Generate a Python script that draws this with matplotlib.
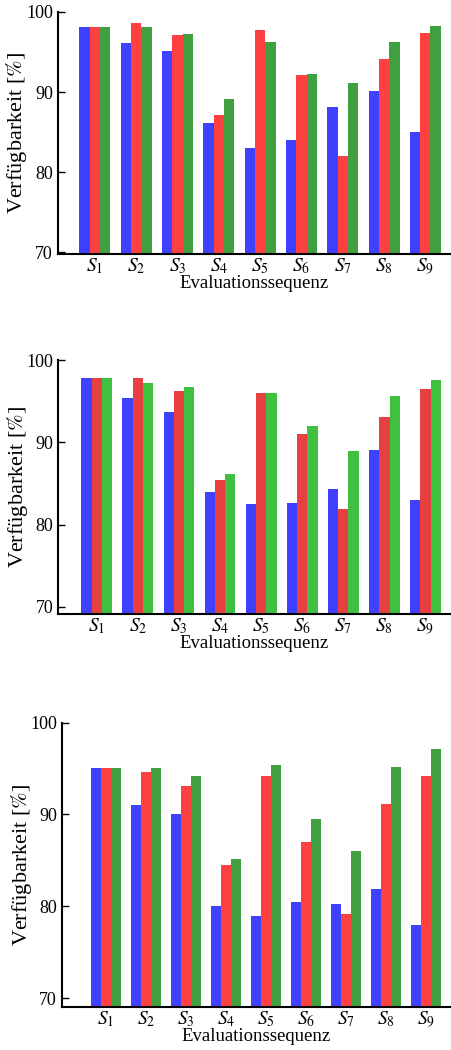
import numpy as np
import matplotlib
matplotlib.use("Agg")
import matplotlib.pyplot as plt

plt.rcParams['font.family'] = 'serif'
plt.rcParams['font.serif'] = ['Liberation Serif', 'DejaVu Serif']
plt.rcParams['mathtext.fontset'] = 'stix'

# tick labels for the sequences
labels = [f"$S_{i}$" for i in range(1, 10)]

# panel 1
p1_blue = [98.1, 96.1, 95.1, 86.1, 83.0, 84.0, 88.1, 90.1, 85.0]
p1_red = [98.1, 98.6, 97.1, 87.1, 97.7, 92.1, 82.0, 94.1, 97.3]
p1_green = [98.1, 98.1, 97.2, 89.1, 96.2, 92.2, 91.1, 96.2, 98.2]

# panel 2
p2_blue = [97.8, 95.4, 93.7, 84.0, 82.5, 82.6, 84.3, 89.1, 83.0]
p2_red = [97.8, 97.9, 96.2, 85.4, 96.0, 91.0, 81.9, 93.1, 96.5]
p2_green = [97.8, 97.2, 96.8, 86.2, 96.0, 92.0, 89.0, 95.7, 97.6]

# panel 3
p3_blue = [95.0, 91.0, 90.1, 80.0, 79.0, 80.5, 80.3, 81.9, 78.0]
p3_red = [95.0, 94.6, 93.1, 84.5, 94.2, 87.0, 79.2, 91.1, 94.2]
p3_green = [95.0, 95.0, 94.2, 85.2, 95.4, 89.5, 86.0, 95.2, 97.1]

panels = [
    # data, colors, axes rect, ylim bottom, xlim left
    ((p1_blue, p1_red, p1_green), ('#4040ff', '#ff4040', '#40a040'),
     [0.128, 0.758, 0.870, 0.2308], 69.8, -0.9),
    ((p2_blue, p2_red, p2_green), ('#4040ff', '#e84040', '#40c040'),
     [0.129, 0.415, 0.869, 0.2419], 69.1, -0.94),
    ((p3_blue, p3_red, p3_green), ('#4040ff', '#ff4040', '#40a040'),
     [0.137, 0.041, 0.861, 0.2709], 69.06, -1.1),
]

fig = plt.figure(figsize=(4.51, 10.5), dpi=100)
x = np.arange(len(labels))
w = 0.25

for data, colors, rect, ybottom, xleft in panels:
    ax = fig.add_axes(rect)
    for k in range(3):
        ax.bar(x + (k - 1) * w, data[k], w, color=colors[k], linewidth=0)
    ax.set_ylim(ybottom, 100)
    ax.set_xlim(xleft, 8.6)
    ax.set_yticks([70, 80, 90, 100])
    ax.set_xticks(x)
    ax.set_xticklabels(labels)
    ax.tick_params(axis='y', direction='in', length=5, width=1, labelsize=13, pad=3.5)
    ax.tick_params(axis='x', length=0, labelsize=14, pad=1.5)
    for s in ['top', 'right']:
        ax.spines[s].set_visible(False)
    for s in ['left', 'bottom']:
        ax.spines[s].set_linewidth(1.5)
    ax.set_xlabel("Evaluationssequenz", fontsize=13.5, labelpad=-1)
    ax.set_ylabel("Verfügbarkeit [$\\%$]", fontsize=16, labelpad=-2.5)

fig.savefig("out.png", dpi=100)
